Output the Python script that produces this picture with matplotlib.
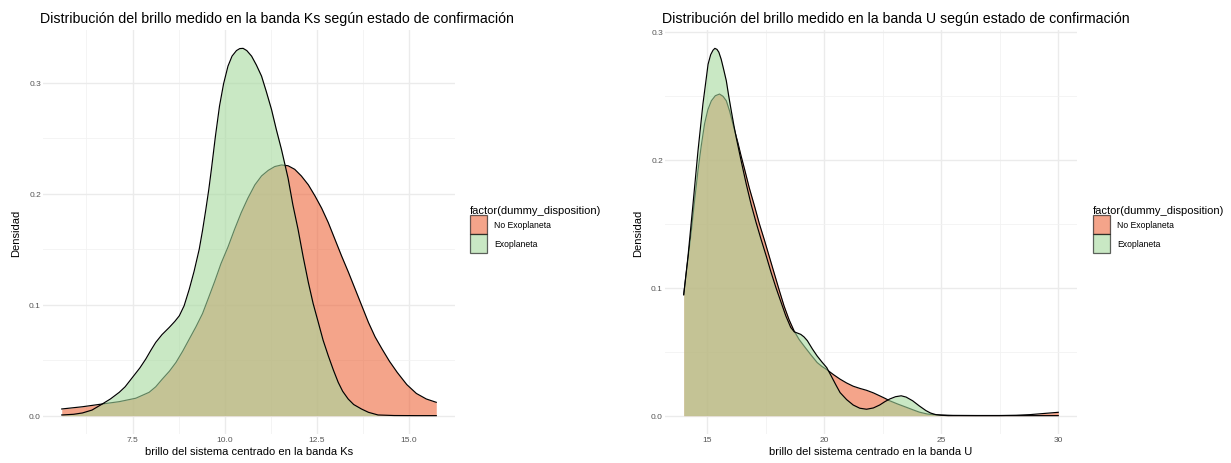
import matplotlib
matplotlib.use("Agg")
import matplotlib.pyplot as plt
from matplotlib.patches import Patch

plt.rcParams['font.family'] = ['Liberation Sans', 'DejaVu Sans']

# densidades (banda Ks)
ks_x_no = [5.58, 6.14, 6.68, 7.14, 7.59, 7.95, 8.13, 8.31, 8.5, 8.68, 8.86, 9.04, 9.22, 9.4,
           9.56, 9.73, 9.9, 10.09, 10.27, 10.45, 10.63, 10.82, 11.0, 11.18, 11.36, 11.54,
           11.72, 11.9, 12.08, 12.27, 12.45, 12.63, 12.81, 12.99, 13.17, 13.36, 13.54, 13.72,
           13.9, 14.08, 14.27, 14.47, 14.68, 14.94, 15.2, 15.47, 15.74]
ks_y_no = [0.006, 0.008, 0.0105, 0.0126, 0.0157, 0.021, 0.026, 0.033, 0.040, 0.048, 0.058,
           0.069, 0.080, 0.092, 0.106, 0.121, 0.137, 0.152, 0.168, 0.183, 0.196, 0.208, 0.216,
           0.221, 0.2245, 0.2259, 0.2252, 0.222, 0.216, 0.208, 0.198, 0.187, 0.174, 0.159,
           0.144, 0.129, 0.114, 0.099, 0.084, 0.071, 0.060, 0.049, 0.039, 0.028, 0.020, 0.015,
           0.012]
ks_x_exo = [5.58, 5.9, 6.14, 6.4, 6.68, 6.9, 7.14, 7.3, 7.5, 7.7, 7.86, 8.0, 8.13, 8.3, 8.5,
            8.65, 8.77, 8.9, 9.04, 9.17, 9.31, 9.4, 9.49, 9.57, 9.64, 9.75, 9.86, 9.97, 10.09,
            10.2, 10.32, 10.41, 10.5, 10.6, 10.73, 10.86, 11.0, 11.13, 11.27, 11.4, 11.54,
            11.72, 11.85, 11.99, 12.13, 12.27, 12.4, 12.54, 12.67, 12.81, 12.95, 13.08, 13.2,
            13.35, 13.5, 13.71, 13.9, 14.16, 14.6, 15.2, 15.74]
ks_y_exo = [0.0006, 0.0012, 0.0024, 0.005, 0.0105, 0.015, 0.021, 0.026, 0.0345, 0.043, 0.051,
            0.059, 0.066, 0.073, 0.0796, 0.085, 0.090, 0.099, 0.114, 0.130, 0.150, 0.167,
            0.186, 0.204, 0.222, 0.252, 0.279, 0.299, 0.315, 0.324, 0.329, 0.3308, 0.331,
            0.329, 0.324, 0.316, 0.306, 0.292, 0.276, 0.258, 0.240, 0.214, 0.190, 0.168,
            0.143, 0.120, 0.101, 0.084, 0.068, 0.054, 0.041, 0.030, 0.022, 0.015, 0.010,
            0.006, 0.003, 0.0006, 0.0001, 0.0, 0.0]

# densidades (banda U)
u_x_no = [14.0, 14.15, 14.33, 14.47, 14.61, 14.75, 14.89, 15.03, 15.18, 15.35, 15.53, 15.68,
          15.82, 15.96, 16.1, 16.2, 16.31, 16.45, 16.6, 16.8, 17.02, 17.23, 17.45, 17.66,
          17.87, 18.08, 18.29, 18.5, 18.72, 18.93, 19.14, 19.42, 19.7, 19.9, 20.11, 20.4,
          20.68, 20.96, 21.24, 21.52, 21.81, 22.1, 22.37, 22.6, 22.8, 23.15, 23.5, 23.8,
          24.07, 24.4, 24.77, 25.5, 26.5, 27.5, 28.2, 28.8, 29.4, 30.0]
u_y_no = [0.0945, 0.118, 0.145, 0.169, 0.1917, 0.211, 0.228, 0.239, 0.246, 0.250, 0.2513,
          0.2495, 0.246, 0.238, 0.228, 0.221, 0.2135, 0.203, 0.1925, 0.178, 0.164, 0.150,
          0.137, 0.124, 0.111, 0.098, 0.0855, 0.075, 0.066, 0.0595, 0.0544, 0.0478, 0.0415,
          0.0385, 0.036, 0.032, 0.0285, 0.0255, 0.023, 0.0213, 0.0198, 0.0178, 0.0155,
          0.0135, 0.0116, 0.009, 0.0066, 0.0045, 0.0027, 0.0013, 0.0006, 0.0002, 0.0001,
          0.0001, 0.0003, 0.0008, 0.0017, 0.0026]
u_x_exo = [14.0, 14.18, 14.4, 14.61, 14.72, 14.82, 14.93, 15.04, 15.15, 15.25, 15.33, 15.42,
           15.5, 15.6, 15.7, 15.82, 15.92, 16.03, 16.14, 16.24, 16.35, 16.46, 16.67, 16.88,
           17.09, 17.3, 17.52, 17.73, 17.94, 18.15, 18.36, 18.57, 18.72, 18.86, 19.0, 19.14,
           19.28, 19.5, 19.7, 19.9, 20.11, 20.3, 20.5, 20.68, 20.96, 21.24, 21.52, 21.81,
           22.1, 22.37, 22.6, 22.8, 23.05, 23.29, 23.5, 23.78, 24.07, 24.35, 24.55, 24.77,
           25.0, 25.3, 30.0]
u_y_exo = [0.0945, 0.124, 0.166, 0.207, 0.226, 0.2435, 0.259, 0.2746, 0.282, 0.2855, 0.287,
           0.2862, 0.284, 0.2785, 0.271, 0.2616, 0.250, 0.2383, 0.227, 0.2176, 0.208, 0.1985,
           0.181, 0.165, 0.151, 0.138, 0.125, 0.112, 0.100, 0.089, 0.078, 0.069, 0.0655,
           0.0645, 0.0635, 0.0615, 0.0586, 0.052, 0.0466, 0.042, 0.0375, 0.031, 0.024, 0.018,
           0.0125, 0.0083, 0.0058, 0.005, 0.006, 0.0083, 0.011, 0.013, 0.0148, 0.0155,
           0.0145, 0.0116, 0.0075, 0.0039, 0.002, 0.0008, 0.0003, 0.0, 0.0]

labels = ["No Exoplaneta", "Exoplaneta"]
fill_colors = ["#ED673C", "#A5D99D"]
alpha = 0.6

W, H = 1231, 464
fig = plt.figure(figsize=(W / 100, H / 100), dpi=100)


def px_axes(x0, y0, x1, y1):
    return fig.add_axes([x0 / W, 1 - y1 / H, (x1 - x0) / W, (y1 - y0) / H])


def density_panel(ax, series, xticks, xfmt, minor_x, title, xlabel, leg_x):
    xs_all = [v for s in series for v in s[0]]
    ymax = max(v for s in series for v in s[1])
    xr = max(xs_all) - min(xs_all)
    ax.set_xlim(min(xs_all) - 0.05 * xr, max(xs_all) + 0.05 * xr)
    ax.set_ylim(-0.05 * ymax, 1.05 * ymax)

    for (xs, ys), col in zip(series, fill_colors):
        ax.fill_between(xs, 0, ys, color=col, alpha=alpha, linewidth=0, zorder=2)
        ax.plot(xs, ys, color='black', lw=0.85, zorder=2, solid_joinstyle='round')

    ax.set_xticks(xticks)
    ax.set_xticklabels([xfmt.format(t) for t in xticks])
    ax.set_yticks([0.0, 0.1, 0.2, 0.3])
    ax.set_yticklabels(["0.0", "0.1", "0.2", "0.3"])
    ax.set_xticks(minor_x, minor=True)
    ax.set_yticks([0.05, 0.15, 0.25], minor=True)
    ax.grid(True, which='major', color='#EBEBEB', lw=1.0, zorder=0)
    ax.grid(True, which='minor', color='#F2F2F2', lw=0.6, zorder=0)
    ax.set_axisbelow(True)
    for sp in ax.spines.values():
        sp.set_visible(False)
    ax.tick_params(which='both', length=0, labelsize=6, labelcolor='#555555', pad=1.5)
    ax.set_xlabel(xlabel, fontsize=8, labelpad=2)
    ax.set_ylabel("Densidad", fontsize=8, labelpad=6)
    ax.set_title(title, fontsize=10.2, loc='left', x=-0.007, pad=6)

    handles = [Patch(facecolor=c, alpha=alpha, edgecolor='black', lw=0.9) for c in fill_colors]
    leg = fig.legend(handles, labels, loc='upper left',
                     bbox_to_anchor=(leg_x / W, 1 - 206 / H),
                     title="factor(dummy_disposition)", title_fontsize=8, fontsize=6.2,
                     frameon=False, handlelength=2.0, handleheight=3.0, labelspacing=0.0,
                     handletextpad=0.8, borderpad=0, borderaxespad=0, alignment='left')
    for h in leg.legend_handles:
        h.set_edgecolor('black')
    return leg


ax1 = px_axes(43, 31, 455, 435)
density_panel(ax1, [(ks_x_no, ks_y_no), (ks_x_exo, ks_y_exo)],
              [7.5, 10.0, 12.5, 15.0], "{:.1f}", [6.25, 8.75, 11.25, 13.75],
              "Distribución del brillo medido en la banda Ks según estado de confirmación",
              "brillo del sistema centrado en la banda Ks", 470)

ax2 = px_axes(665, 31, 1077, 435)
density_panel(ax2, [(u_x_no, u_y_no), (u_x_exo, u_y_exo)],
              [15, 20, 25, 30], "{:d}", [17.5, 22.5, 27.5],
              "Distribución del brillo medido en la banda U según estado de confirmación",
              "brillo del sistema centrado en la banda U", 1093)

fig.savefig("out.png", dpi=100, facecolor='white')
